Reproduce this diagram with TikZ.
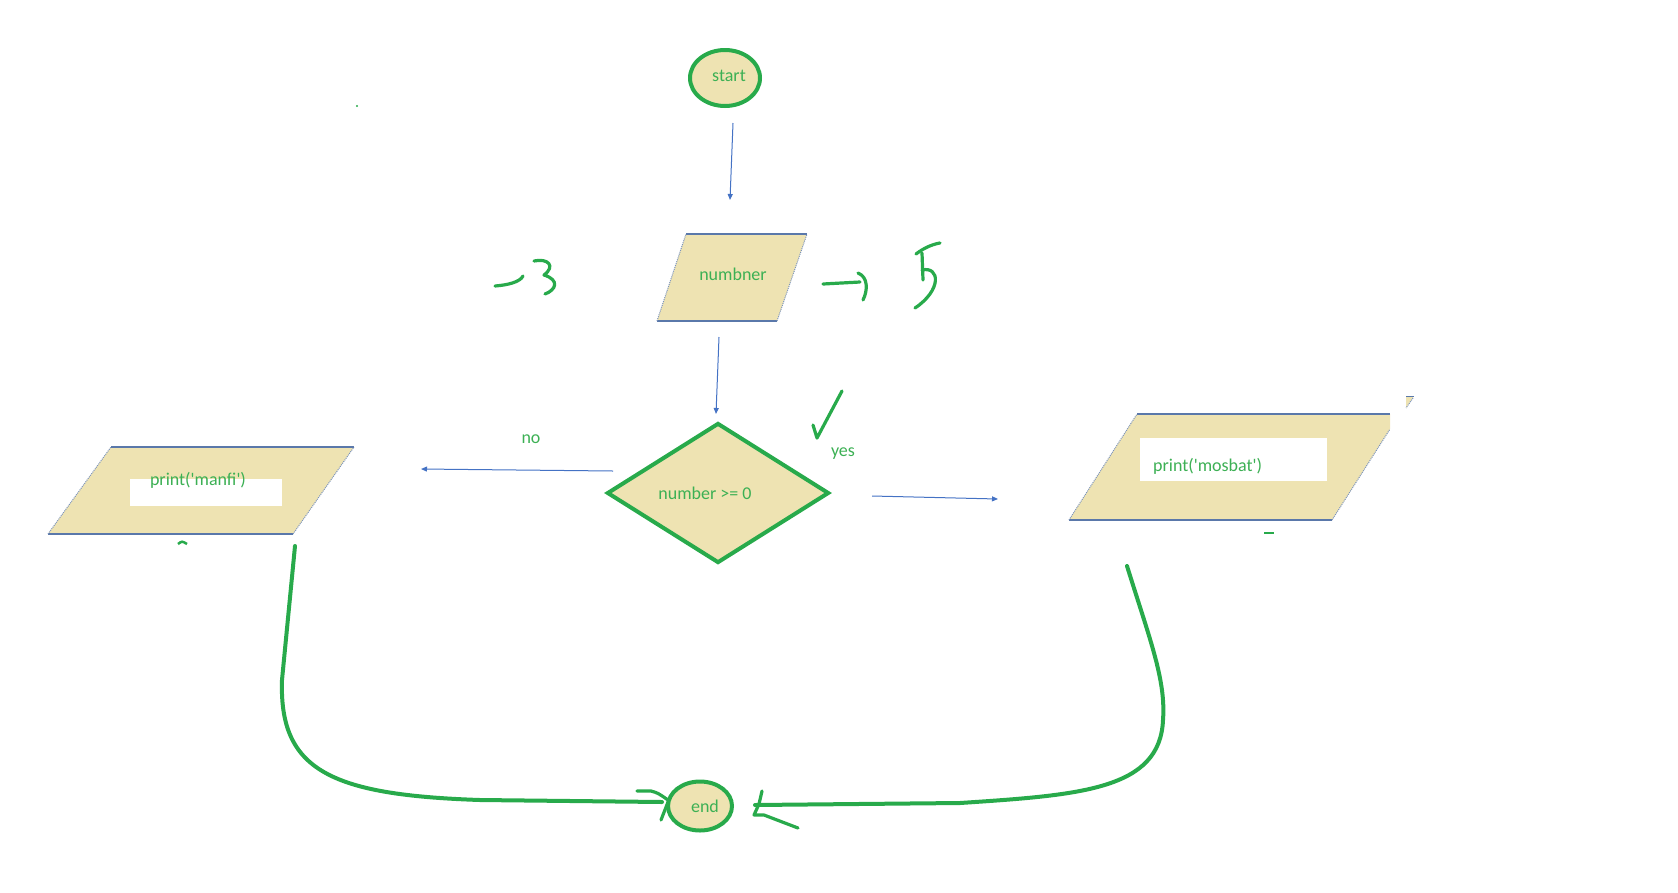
\documentclass[tikz,border=0pt]{standalone}
\usepackage{fontspec}
\setmainfont{Carlito}
\usetikzlibrary{shapes.geometric,arrows.meta}
\definecolor{tanfill}{RGB}{238,227,178}
\definecolor{pengreen}{RGB}{40,170,75}
\definecolor{txtgreen}{RGB}{60,176,84}
\definecolor{lineblue}{RGB}{68,114,196}
\definecolor{edgeblue}{RGB}{90,120,170}
\newcommand{\sq}{\textquotesingle}
\begin{document}
\begin{tikzpicture}[x=1pt, y=-1pt, font=\fontsize{18}{22}\selectfont,
  term/.style={ellipse, draw=pengreen, line width=4pt, fill=tanfill, text=txtgreen, inner sep=0pt},
  cond/.style={diamond, draw=pengreen, line width=4pt, fill=tanfill, text=txtgreen, inner sep=0pt, minimum width=222pt, minimum height=140pt},
  lab/.style={text=txtgreen, inner sep=0pt},
  flow/.style={draw=lineblue, line width=1pt, -{Triangle[length=6pt,width=5pt]}},
  pen/.style={draw=pengreen, line width=4pt, line cap=round, line join=round},
  thinpen/.style={draw=pengreen, line width=3.2pt, line cap=round, line join=round},
  boxline/.style={draw=edgeblue, line width=1.1pt},
  boxside/.style={draw=edgeblue!80, line width=1pt, densely dotted}]
\useasboundingbox (0,0) rectangle (1678,892);

\fill[tanfill] (657,321) -- (686,234) -- (807,234) -- (777,321) -- cycle;
\draw[boxline] (686,234) -- (807,234) (657,321) -- (777,321);
\draw[boxside] (657,321) -- (686,234) (777,321) -- (807,234);

\fill[tanfill] (48,534) -- (111,447) -- (354,447) -- (293,534) -- cycle;
\fill[white] (130,479) rectangle (282,506);
\draw[boxline] (111,447) -- (354,447) (48,534) -- (293,534);
\draw[boxside] (48,534) -- (111,447) (293,534) -- (354,447);

\fill[tanfill] (1069,520) -- (1137,414) -- (1390,414) -- (1390,429) -- (1332,520) -- cycle;
\fill[white] (1140,438) rectangle (1327,481);
\draw[boxline] (1137,414) -- (1390,414) (1069,520) -- (1332,520);
\draw[boxside] (1069,520) -- (1137,414) (1332,520) -- (1390,429);
\fill[tanfill] (1406,396) -- (1414,396) -- (1406,408) -- cycle;
\draw[boxline, line width=1pt] (1406,396) -- (1414,396);
\draw[boxside] (1413,398) -- (1406,408);

\node[term, minimum width=70pt, minimum height=56pt] (start) at (725,78) {\raisebox{4pt}{\hspace*{8pt}start}};
\node[lab] (inp) at (733,274) {numbner};
\node[cond] (test) at (718,493) {\hspace*{-26pt}number >= 0};
\node[lab] (neg) at (198,480) {print(\sq manfi\sq)};
\node[lab, anchor=west] (pos) at (1153,466) {print(\sq mosbat\sq)};
\node[term, minimum width=64pt, minimum height=49pt] (stop) at (700,806) {\hspace*{10pt}end};
\node[lab] (no) at (531,439) {no};
\node[lab] (yes) at (843,454) {yes};

\coordinate (a1) at (733,123);
\coordinate (b1) at (730,200);
\coordinate (a2) at (719,337);
\coordinate (b2) at (716,414);
\coordinate (a3) at (613,471);
\coordinate (b3) at (421,469);
\coordinate (a4) at (872,496);
\coordinate (b4) at (998,499);
\draw[flow] (a1) -- (b1);
\draw[flow] (a2) -- (b2);
\draw[flow] (a3) -- (b3);
\draw[flow] (a4) -- (b4);

\coordinate (l0) at (295,546);
\coordinate (r0) at (1127,566);
\coordinate (r1) at (755,805);
\draw[pen] (l0) -- (282,680) .. controls (279,770) and (330,795) .. (480,800) -- ([xshift=-4pt,yshift=4pt]stop.west);
\draw[pen] (r0) .. controls (1150,640) and (1166,680) .. (1163,720) .. controls (1160,790) and (1080,795) .. (960,803) -- (r1);
\draw[thinpen] (637,791) -- (651,791) .. controls (658,793) .. (668,800);
\draw[thinpen] (661,820) -- (668,802);
\draw[thinpen] (762,791) -- (759,804) -- (754,815) -- (764,815) -- (798,828);

\draw[thinpen] (495,286) .. controls (508,285) and (520,282) .. (523,276);
\draw[thinpen] (534,261) .. controls (548,258) and (556,266) .. (544,275) .. controls (560,280) and (556,290) .. (545,294);
\draw[thinpen] (823,284) -- (860,282);
\draw[thinpen] (858,273) .. controls (868,277) and (868,290) .. (863,300);
\draw[thinpen] (916,254) .. controls (925,247) and (934,244) .. (940,243);
\draw[thinpen] (922,253) -- (923,280);
\draw[thinpen] (922,270) .. controls (940,266) and (942,290) .. (915,308);
\draw[thinpen] (813,425) -- (817,438) -- (842,391);
\fill[pengreen] (357,106) circle (1.2pt);
\draw[pengreen, line width=2.5pt] (178,544) .. controls (182,541) .. (187,544);
\draw[pengreen, line width=2.5pt] (1264,533) -- (1274,533);
\end{tikzpicture}
\end{document}
